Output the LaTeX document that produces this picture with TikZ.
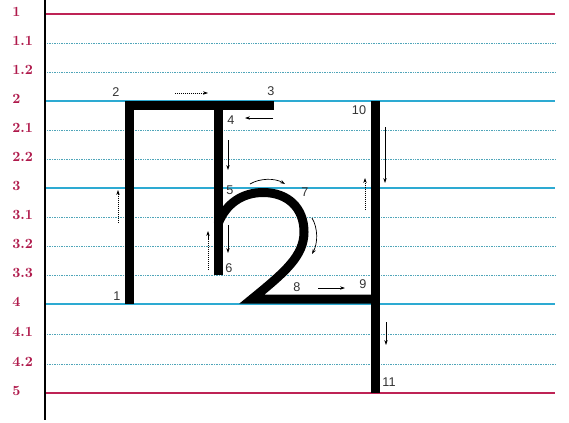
\documentclass[tikz,border=0pt]{standalone}
\usepackage{fontspec}
\newfontfamily\numfont{Liberation Sans}
\usetikzlibrary{arrows.meta}
\definecolor{rulered}{RGB}{190,35,85}
\definecolor{ruleblue}{RGB}{45,170,210}
\definecolor{ruledot}{RGB}{80,165,185}
\definecolor{labred}{RGB}{175,25,75}
\begin{document}
\begin{tikzpicture}[x=0.025cm,y=-0.025cm,
  lab/.style={anchor=west,text=labred,inner sep=0pt,font=\bfseries\fontsize{10}{10}\selectfont},
  num/.style={inner sep=0pt,text=black!80,font=\numfont\fontsize{9}{9}\selectfont},
  redline/.style={rulered,line width=1.3pt},
  blueline/.style={ruleblue,line width=1pt},
  dotline/.style={ruledot,line width=0.6pt,dash pattern=on 0.7pt off 0.5pt},
  stroke/.style={line width=6.4pt,miter limit=10},
  hint/.style={line width=0.5pt,-{Stealth[length=3.5pt,width=2.4pt]}},
  dothint/.style={hint,dash pattern=on 0.8pt off 0.6pt}]
\useasboundingbox (0,0) rectangle (569,422);

\draw[redline] (45,14) -- (555,14);
\draw[dotline] (47,43) -- (555,43);
\draw[dotline] (47,72) -- (555,72);
\draw[blueline] (45,101) -- (555,101);
\draw[dotline] (47,130) -- (555,130);
\draw[dotline] (47,159) -- (555,159);
\draw[blueline] (45,188) -- (555,188);
\draw[dotline] (47,217) -- (555,217);
\draw[dotline] (47,246) -- (555,246);
\draw[dotline] (47,275) -- (555,275);
\draw[blueline] (45,304) -- (555,304);
\draw[dotline] (47,334) -- (555,334);
\draw[dotline] (47,364) -- (555,364);
\draw[redline] (45,393) -- (555,393);
\draw[line width=0.9pt] (45,0) -- (45,420);

\node[lab] (r1) at (12,12) {1};
\node[lab] (r11) at (12,41) {1.1};
\node[lab] (r12) at (12,70) {1.2};
\node[lab] (r2) at (12,99) {2};
\node[lab] (r21) at (12,128) {2.1};
\node[lab] (r22) at (12,157) {2.2};
\node[lab] (r3) at (12,186) {3};
\node[lab] (r31) at (12,215) {3.1};
\node[lab] (r32) at (12,244) {3.2};
\node[lab] (r33) at (12,273) {3.3};
\node[lab] (r4) at (12,302) {4};
\node[lab] (r41) at (12,332) {4.1};
\node[lab] (r42) at (12,362) {4.2};
\node[lab] (r5) at (12,391) {5};

\draw[stroke] (129,304) -- (129,105.5) -- (274,105.5);
\draw[stroke] (218,105.5) -- (218,275);
\draw[stroke] (218,224) .. controls (226,203) and (243,192.5) .. (263,192.5)
  .. controls (288,192.5) and (304,208) .. (304,232)
  .. controls (304,256) and (285,272) .. (252,299) -- (375,299);
\draw[stroke] (375,101) -- (375,393);

\node[num] (p1) at (117,296) {1};
\node[num] (p2) at (116,92) {2};
\node[num] (p3) at (271,91) {3};
\node[num] (p4) at (231,120) {4};
\node[num] (p5) at (230,190) {5};
\node[num] (p6) at (229,268) {6};
\node[num] (p7) at (305,192) {7};
\node[num] (p8) at (297,287) {8};
\node[num] (p9) at (363,284) {9};
\node[num] (p10) at (359,110) {10};
\node[num] (p11) at (389,382) {11};

\draw[dothint] (175,93) -- (208,93);
\draw[hint] (273,118) -- (245,118);
\draw[hint] (228,140) -- (228,170);
\draw[hint] (250,184) .. controls (260,178) and (275,178) .. (285,184);
\draw[hint] (228,225) -- (228,253);
\draw[dothint] (208,270) -- (208,231);
\draw[hint] (312,218) .. controls (318,228) and (318,243) .. (312,254);
\draw[hint] (318,288) -- (345,288);
\draw[dothint] (365,210) -- (365,178);
\draw[hint] (385,127) -- (385,183);
\draw[hint] (386,322) -- (386,345);
\draw[dothint] (118,223) -- (118,190);
\end{tikzpicture}
\end{document}
